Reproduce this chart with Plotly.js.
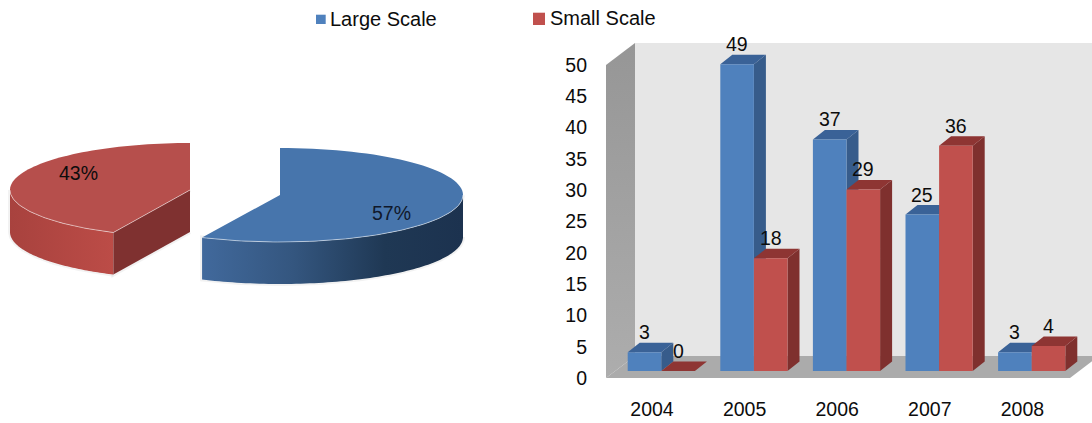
<!DOCTYPE html>
<html>
<head>
<meta charset="utf-8">
<script src="https://cdn.plot.ly/plotly-3.0.1.min.js"></script>
<style>html,body{margin:0;padding:0;background:#fff}#chart{width:1092px;height:423px}</style>
</head>
<body>
<div id="chart"></div>
<script>
// Project counts per year, split by project scale
const years = [2004, 2005, 2006, 2007, 2008];
const largeScale = [3, 49, 37, 25, 3];
const smallScale = [0, 18, 29, 36, 4];
const yTicks = [0, 5, 10, 15, 20, 25, 30, 35, 40, 45, 50];

// Overall share of each scale
const largeShare = 57;
const smallShare = 43;

const W = 1092, H = 423;
const FONT = 'Liberation Sans, Arial, sans-serif';
const TEXT = '#0c0c0c';
const BLUE = '#4F81BD', RED = '#C0504D';

// Pixel scales of the column chart
const pxPerYear = 92.6, pxPerUnit = 6.26;
const frontLeft = 606, frontRight = 1070, frontBase = 378, plotTop = 43;
const wallDx = 29, wallDy = 22;
const planeDx = 9.3, planeDy = 7;  // columns stand this far behind the front edge of the floor
const barDx = 12, barDy = 9.5;     // depth of a column
const barW = 33.6 / pxPerYear;
const yearAtFront = p => 2004 + (p - 652) / pxPerYear;
const toYears = px => px / pxPerYear;
const toUnits = px => px / pxPerUnit;

function frameTrace(xs, ys, fill, extra) {
  return Object.assign({
    type: 'scatter', mode: 'none', x: xs, y: ys, fill: 'toself', fillcolor: fill,
    hoverinfo: 'skip', showlegend: false, xaxis: 'x', yaxis: 'y'
  }, extra || {});
}

// Floor and walls of the chart box
const fx0 = yearAtFront(frontLeft), fx1 = yearAtFront(frontRight);
const wx = toYears(wallDx), wy = toUnits(wallDy);
const topFront = toUnits(frontBase - 65);
const topBack = toUnits(frontBase - plotTop);
const traces = [
  frameTrace([fx0 + wx, fx1 + wx, fx1 + wx, fx0 + wx], [wy, wy, topBack, topBack], '#E6E6E6'),
  frameTrace([fx0, fx0 + wx, fx0 + wx, fx0], [0, wy, topBack, topFront], '#A3A3A3', {
    fillgradient: { type: 'vertical', colorscale: [[0, '#ADADAD'], [1, '#969696']] }
  }),
  frameTrace([fx0, fx1, fx1 + wx, fx0 + wx], [0, 0, wy, wy], '#ABABAB')
];

// Side and top faces of the columns, worked out from the values
function faces(values, leftOf) {
  const side = { x: [], y: [] }, top = { x: [], y: [] };
  const px = toYears(planeDx), py = toUnits(planeDy), dx = toYears(barDx), dy = toUnits(barDy);
  values.forEach((v, i) => {
    const l = leftOf(years[i]) + px, r = l + barW, b = py, t = v + py;
    side.x.push(r, r + dx, r + dx, r, null);
    side.y.push(b, b + dy, t + dy, t, null);
    top.x.push(l, r, r + dx, l + dx, null);
    top.y.push(t, t, t + dy, t + dy, null);
  });
  return { side, top };
}
const blueFaces = faces(largeScale, y => y - barW);
const redFaces = faces(smallScale, y => y);
traces.push(
  frameTrace(blueFaces.side.x, blueFaces.side.y, '#375C8B'),
  frameTrace(blueFaces.top.x, blueFaces.top.y, '#3A6297'),
  frameTrace(redFaces.side.x, redFaces.side.y, '#7F302E'),
  frameTrace(redFaces.top.x, redFaces.top.y, '#8E3533')
);

// Front faces of the columns
traces.push(
  { type: 'bar', name: 'Large Scale', x: years, y: largeScale, marker: { color: BLUE },
    xaxis: 'x2', yaxis: 'y2', hoverinfo: 'skip', showlegend: false },
  { type: 'bar', name: 'Small Scale', x: years, y: smallScale, marker: { color: RED },
    xaxis: 'x2', yaxis: 'y2', hoverinfo: 'skip', showlegend: false }
);

// Exploded pie, drawn on an axis pair with one unit per pixel
const ry = 47, depth = 42;
const ellipsePoint = (c, a) => [
  c.x + c.rx * Math.sin(a * Math.PI / 180), c.y - ry * Math.cos(a * Math.PI / 180)
];
function arc(c, from, to) {
  const pts = [];
  for (let i = 0; i <= 80; i++) pts.push(ellipsePoint(c, from + (to - from) * i / 80));
  return pts;
}
function pieTrace(pts, fill, extra) {
  return Object.assign({
    type: 'scatter', mode: 'none', x: pts.map(p => p[0]), y: pts.map(p => p[1]),
    fill: 'toself', fillcolor: fill, hoverinfo: 'skip', showlegend: false,
    xaxis: 'x3', yaxis: 'y3'
  }, extra || {});
}
function rimPoints(c, from, to) {
  const a = arc(c, from, to);
  return a.concat(a.slice().reverse().map(p => [p[0], p[1] + depth]));
}
function strokeTrace(pts, color, width) {
  return {
    type: 'scatter', mode: 'lines', x: pts.map(p => p[0]), y: pts.map(p => p[1]),
    line: { color, width }, hoverinfo: 'skip', showlegend: false, xaxis: 'x3', yaxis: 'y3'
  };
}
const split = largeShare / (largeShare + smallShare) * 360;
const bc = { x: 280, y: 195, rx: 183 }, rc = { x: 190, y: 190, rx: 180 };
const corner = ellipsePoint(rc, split);
const apex = c => [c.x, c.y];
const halo = 'rgba(160,160,160,0.14)';
const edge = 'rgba(255,255,255,0.5)';
const redCut = [apex(rc), corner, [corner[0], corner[1] + depth], [rc.x, rc.y + depth]];
traces.push(
  strokeTrace(rimPoints(bc, 90, split), halo, 4),
  pieTrace(rimPoints(bc, 90, split), '#2A4766', {
    fillgradient: { type: 'horizontal', colorscale: [[0, '#41699C'], [0.35, '#34567F'], [0.7, '#1F3854'], [1, '#1C324F']] }
  }),
  pieTrace([apex(bc)].concat(arc(bc, 0, split)), '#4775AC'),
  strokeTrace(arc(bc, 90, split), edge, 1),
  strokeTrace(rimPoints(rc, split, 270), halo, 4),
  strokeTrace(redCut, halo, 4),
  pieTrace(rimPoints(rc, split, 270), '#B0453F', {
    fillgradient: { type: 'horizontal', colorscale: [[0, '#A8423E'], [1, '#BC4C47']] }
  }),
  pieTrace(redCut, '#7F3130'),
  pieTrace([apex(rc)].concat(arc(rc, split, 360)), '#B64F4C'),
  strokeTrace([apex(rc), corner], edge, 1),
  strokeTrace(arc(rc, split, 270), edge, 1)
);

// Value labels above each column, plus the pie percentages and legend text
const labelFont = { family: FONT, size: 19.5, color: TEXT };
const legendFont = { family: FONT, size: 20, color: TEXT };
function valueLabels(values, offset) {
  return values.map((v, i) => ({
    xref: 'x2', yref: 'y2', x: years[i] + offset, y: v, yshift: 20, text: String(v),
    showarrow: false, font: labelFont
  }));
}
const annotations = [
  ...valueLabels(largeScale, -barW / 2),
  ...valueLabels(smallScale, barW / 2),
  { xref: 'x3', yref: 'y3', x: 391, y: 213, text: largeShare + '%', showarrow: false,
    font: { family: FONT, size: 19.5, color: '#10182a' } },
  { xref: 'x3', yref: 'y3', x: 78, y: 173, text: smallShare + '%', showarrow: false, font: labelFont },
  { xref: 'paper', yref: 'paper', x: 328 / W, y: 1 - 19 / H, xanchor: 'left', yanchor: 'middle',
    text: 'Large Scale', showarrow: false, font: legendFont },
  { xref: 'paper', yref: 'paper', x: 547.5 / W, y: 1 - 17.5 / H, xanchor: 'left', yanchor: 'middle',
    text: 'Small Scale', showarrow: false, font: legendFont }
];
const keyRect = (x0, y0, x1, y1, c) => ({
  type: 'rect', xref: 'paper', yref: 'paper', x0: x0 / W, x1: x1 / W,
  y0: 1 - y1 / H, y1: 1 - y0 / H, fillcolor: c, line: { width: 0 }
});

const hidden = { visible: false, fixedrange: true };
const layout = {
  width: W, height: H, margin: { l: 0, r: 0, t: 0, b: 0 },
  paper_bgcolor: '#fff', plot_bgcolor: 'rgba(0,0,0,0)', showlegend: false,
  barmode: 'group', bargap: 1 - 2 * barW, bargroupgap: 0,
  xaxis: {
    domain: [frontLeft / W, 1], range: [yearAtFront(frontLeft), yearAtFront(W)],
    tickmode: 'array', tickvals: years, ticktext: years.map(String), tickfont: labelFont,
    ticks: '', showgrid: false, zeroline: false, showline: false, ticklabelstandoff: 17, anchor: 'y', fixedrange: true
  },
  yaxis: {
    domain: [1 - frontBase / H, 1 - plotTop / H], range: [0, toUnits(frontBase - plotTop)],
    tickmode: 'array', tickvals: yTicks, ticktext: yTicks.map(String), tickfont: labelFont,
    ticks: '', showgrid: false, zeroline: false, showline: false, ticklabelstandoff: 18, anchor: 'x', fixedrange: true
  },
  xaxis2: Object.assign({}, hidden, {
    domain: [frontLeft / W, 1], anchor: 'y2',
    range: [yearAtFront(frontLeft - planeDx), yearAtFront(W - planeDx)]
  }),
  yaxis2: Object.assign({}, hidden, {
    domain: [1 - (frontBase - planeDy) / H, 1 - plotTop / H], anchor: 'x2',
    range: [0, toUnits(frontBase - planeDy - plotTop)]
  }),
  xaxis3: Object.assign({}, hidden, { domain: [0, 480 / W], range: [0, 480], anchor: 'y3' }),
  yaxis3: Object.assign({}, hidden, { domain: [1 - 320 / H, 1 - 100 / H], range: [320, 100], anchor: 'x3' }),
  annotations,
  shapes: [keyRect(316, 14.7, 325.7, 24, BLUE), keyRect(533, 12.7, 545, 25, RED)]
};

Plotly.newPlot('chart', traces, layout, { displayModeBar: false, staticPlot: true });
</script>
</body>
</html>
